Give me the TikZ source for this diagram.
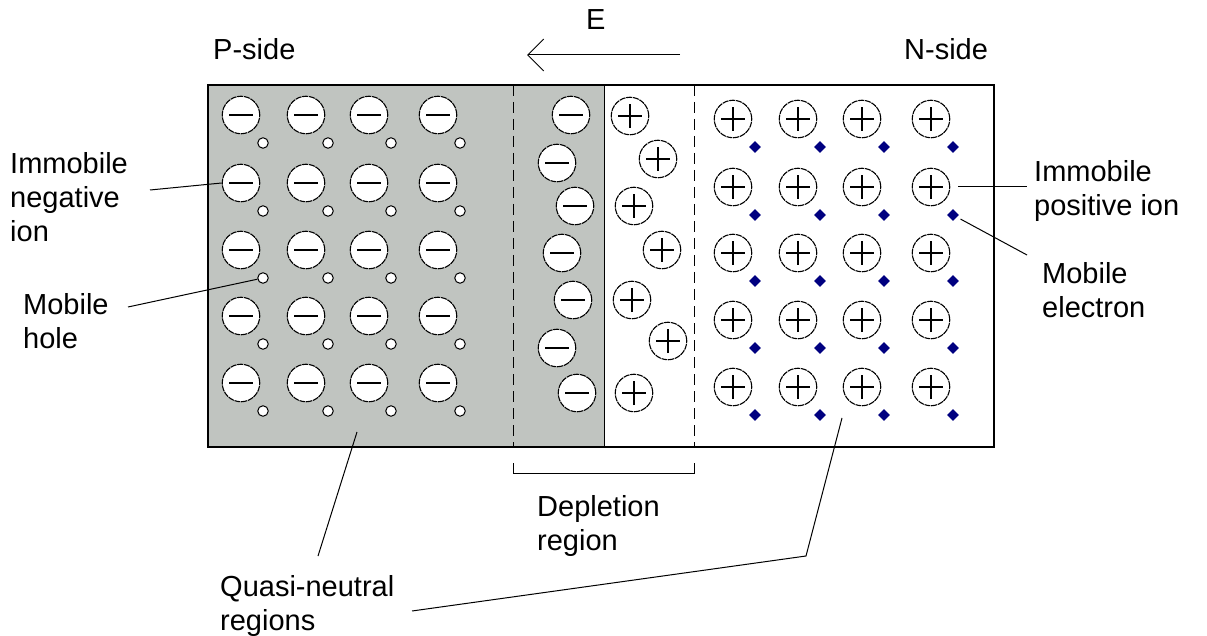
\documentclass[tikz,border=0pt]{standalone}
\usepackage{fontspec}
\setmainfont{Liberation Sans}
\usetikzlibrary{shapes.geometric,arrows.meta,calc}
\definecolor{pgray}{RGB}{192,196,192}
\definecolor{enavy}{RGB}{0,0,128}
\begin{document}
\begin{tikzpicture}[x=1pt,y=-1pt,
 ion/.style={circle,draw=black,line width=1.1pt,fill=white,minimum size=37.5pt,inner sep=0pt,dash pattern=on 6pt off 0.8pt},
 negion/.style={ion,path picture={\draw[solid,line width=1.2pt] ([xshift=-12pt]path picture bounding box.center) -- ([xshift=12pt]path picture bounding box.center);}},
 posion/.style={ion,path picture={\draw[solid,line width=1.2pt] ([xshift=-12pt]path picture bounding box.center) -- ([xshift=12pt]path picture bounding box.center) ([yshift=-12pt]path picture bounding box.center) -- ([yshift=12pt]path picture bounding box.center);}},
 hole/.style={circle,draw=black,line width=1pt,fill=white,minimum size=10.5pt,inner sep=0pt},
 electron/.style={diamond,fill=enavy,minimum size=12pt,inner sep=0pt},
 lbl/.style={font=\fontsize{29}{34}\selectfont,align=left,inner sep=0pt,anchor=north west},
 leader/.style={line width=1pt,black},
 regiondash/.style={line width=1pt,dash pattern=on 11pt off 6pt},
]
\useasboundingbox (0,0) rectangle (1207,636);
% regions
\fill[pgray] (208,85) rectangle (604,447);
\draw[regiondash] (513,85) -- (513,447);
\draw[regiondash] (694,85) -- (694,447);
\draw[line width=1pt] (604,85) -- (604,447);
\draw[line width=1.5pt] (208,85) rectangle (994,447);
% P side
\foreach \r/\y in {1/115,2/183,3/250,4/316,5/383}{
  \foreach \c/\x in {1/241,2/306,3/369,4/438}{
    \node[negion] (P\r\c) at (\x,\y) {};
    \node[hole] (H\r\c) at (\x+22,\y+28) {};
  }
}
% N side
\foreach \r/\y in {1/119,2/187,3/253,4/320,5/387}{
  \foreach \c/\x in {1/733,2/798,3/862,4/931}{
    \node[posion] (N\r\c) at (\x,\y) {};
    \node[electron] (E\r\c) at (\x+22,\y+28) {};
  }
}
% depletion region
\foreach \i/\x/\y in {1/571/115,2/557/163,3/575/206,4/562/253,5/573/300,6/557/348,7/577/393}{
  \node[negion] (DN\i) at (\x,\y) {};
}
\foreach \i/\x/\y in {1/630/116,2/658/159,3/634/206,4/662/250,5/632/300,6/668/341,7/634/393}{
  \node[posion] (DP\i) at (\x,\y) {};
}
% field arrow
\node[lbl] (Elbl) at (586,9) {E};
\coordinate (Ea) at (680,55);
\coordinate (Eb) at (527,55);
\draw[line width=1pt,-{Straight Barb[length=16pt,width=32pt]}] (Ea) -- (Eb);
% side labels
\node[lbl] (Pside) at (213,38) {P-side};
\node[lbl] (Nside) at (904,38) {N-side};
% left labels
\node[lbl] (negL) at (10,152) {Immobile\\negative\\ion};
\node[lbl] (holeL) at (23,293) {Mobile\\hole};
\coordinate (negEnd) at (150,190);
\draw[leader] (negEnd) -- (P21.west);
\coordinate (holeEnd) at (128,307);
\draw[leader] (holeEnd) -- (H31);
% right labels
\node[lbl] (posL) at (1034,160) {Immobile\\positive ion};
\node[lbl] (elecL) at (1042,262) {Mobile\\electron};
\coordinate (posEnd) at (1027,187);
\draw[leader] ([xshift=8pt]N24.east) -- (posEnd);
\coordinate (elecEnd) at (1027,255);
\draw[leader,shorten <=4pt] (E24) -- (elecEnd);
% depletion bracket
\coordinate (b1) at (513,463);
\coordinate (b2) at (694,463);
\draw[line width=1pt] (b1) -- ++(0,10) -| (b2);
\node[lbl] (depL) at (537,495) {Depletion\\region};
% quasi-neutral
\node[lbl] (quasiL) at (220,575) {Quasi-neutral\\regions};
\coordinate (qa) at (357,432);
\coordinate (qb) at (318,556);
\draw[leader] (qa) -- (qb);
\coordinate (qc) at (842,418);
\coordinate (qd) at (806,556);
\coordinate (qe) at (412,611);
\draw[leader] (qc) -- (qd) -- (qe);
\end{tikzpicture}
\end{document}
